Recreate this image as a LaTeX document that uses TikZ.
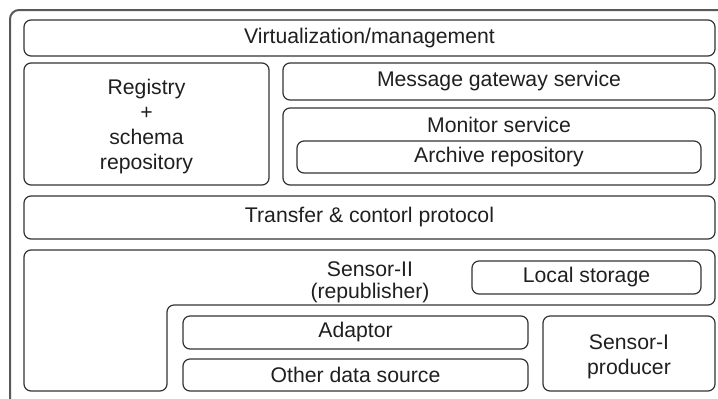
\documentclass[tikz,border=0pt]{standalone}
\usepackage{fontspec}
\setmainfont{Liberation Sans}
\begin{document}
\begin{tikzpicture}[x=0.5pt,y=-0.5pt,
  box/.style={draw=black!80,line width=0.6pt,rounded corners=3.5pt,inner sep=0pt},
  frame/.style={draw=black!65,line width=1pt,rounded corners=4.5pt},
  txt/.style={font=\fontsize{10.6}{12.5}\selectfont,text=black!88,align=center,inner sep=0pt},
  bw/.style 2 args={minimum width=#1*0.5pt,minimum height=#2*0.5pt}]
\useasboundingbox (0,0) rectangle (718,398);
\clip (0,0) rectangle (718,398);
\draw[frame] (10,10) rectangle (760,440);
% top layer
\node[box,bw={691}{36},txt] (virt) at (369.5,38) {Virtualization/management};
\node[box,bw={245}{122}] (reg) at (146.5,124) {};
\node[txt] (regtext) at (146.5,127) {Registry\\+\\schema\\repository};
\node[box,bw={432}{37},txt] (msg) at (499,81.5) {Message gateway service};
\node[box,bw={432}{77}] (mon) at (499,146.5) {};
\node[txt] (montext) at (499,125) {Monitor service};
\node[box,bw={404}{32},txt] (arch) at (499,157) {Archive repository};
\node[box,bw={691}{43},txt] (trans) at (369.5,217.5) {Transfer \& contorl protocol};
% sensor II L-shape
\draw[box] (24,250) -- (715,250) -- (715,305) -- (167,305) -- (167,391) -- (24,391) -- cycle;
\node[txt,font=\fontsize{10.6}{11}\selectfont] (s2text) at (370,282) {Sensor-II\\(republisher)};
\node[box,bw={229}{33},txt] (local) at (586.5,277.5) {Local storage};
\node[box,bw={345}{33},txt] (adapt) at (355.5,332.5) {Adaptor};
\node[box,bw={345}{32},txt] (other) at (355.5,375) {Other data source};
\node[box,bw={172}{75}] (s1) at (629,353.5) {};
\node[txt] (s1text) at (629,357) {Sensor-I\\producer};
\end{tikzpicture}
\end{document}
